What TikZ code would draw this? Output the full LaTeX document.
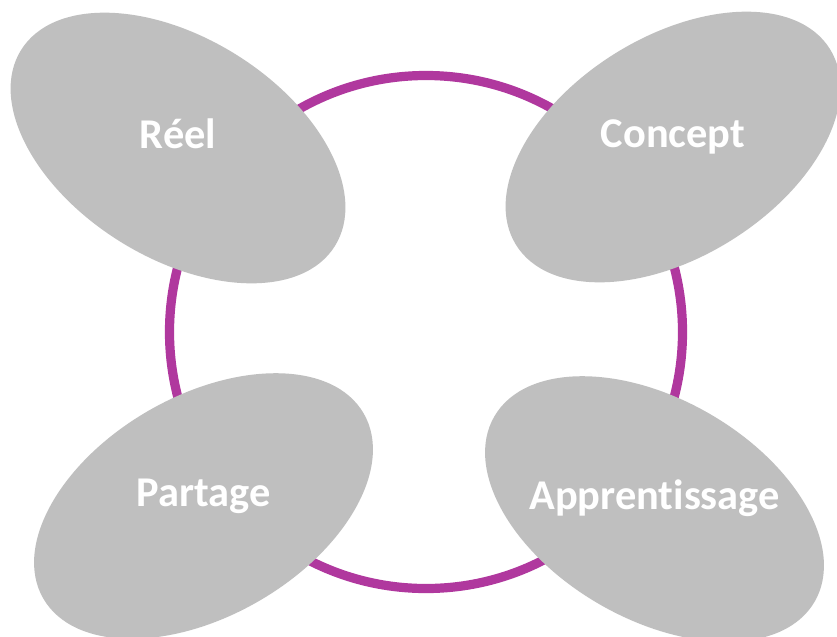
\documentclass[tikz,border=0pt]{standalone}
\usepackage{fontspec}
\setmainfont{Carlito}[Ligatures=NoCommon]
\usetikzlibrary{shapes.geometric}
\definecolor{ringpurple}{RGB}{176,56,158}
\definecolor{blobgray}{RGB}{191,191,191}
\tikzset{
  blob/.style={ellipse, fill=blobgray, inner sep=0pt, outer sep=0pt,
    minimum width=277.5pt, minimum height=165pt},
  lbl/.style={anchor=base, text=white, inner sep=0pt,
    font=\fontsize{31.8pt}{36pt}\selectfont\bfseries},
  ring/.style={circle, draw=ringpurple, line width=6.9pt, inner sep=0pt,
    minimum size=384.75pt}
}
\begin{document}
\begin{tikzpicture}[x=0.75pt,y=-0.75pt]
  \fill[white] (0,0) rectangle (837,636);
  \useasboundingbox (0,0) rectangle (837,636);
  \node[ring] (cycle) at (426,332) {};
  \node[blob, rotate=-32] (reel) at (178,148) {};
  \node[blob, rotate=32] (concept) at (673,147) {};
  \node[blob, rotate=30] (partage) at (203.5,506) {};
  \node[blob, rotate=-30] (apprent) at (654.5,509) {};
  \node[lbl] (reelT) at (reel.center) {Réel};
  \node[lbl] (conceptT) at (concept.center) {Concept};
  \node[lbl] (partageT) at (partage.center) {Partage};
  \node[lbl] (apprentT) at (apprent.center) {Apprent\kern0pt issage};
\end{tikzpicture}
\end{document}
